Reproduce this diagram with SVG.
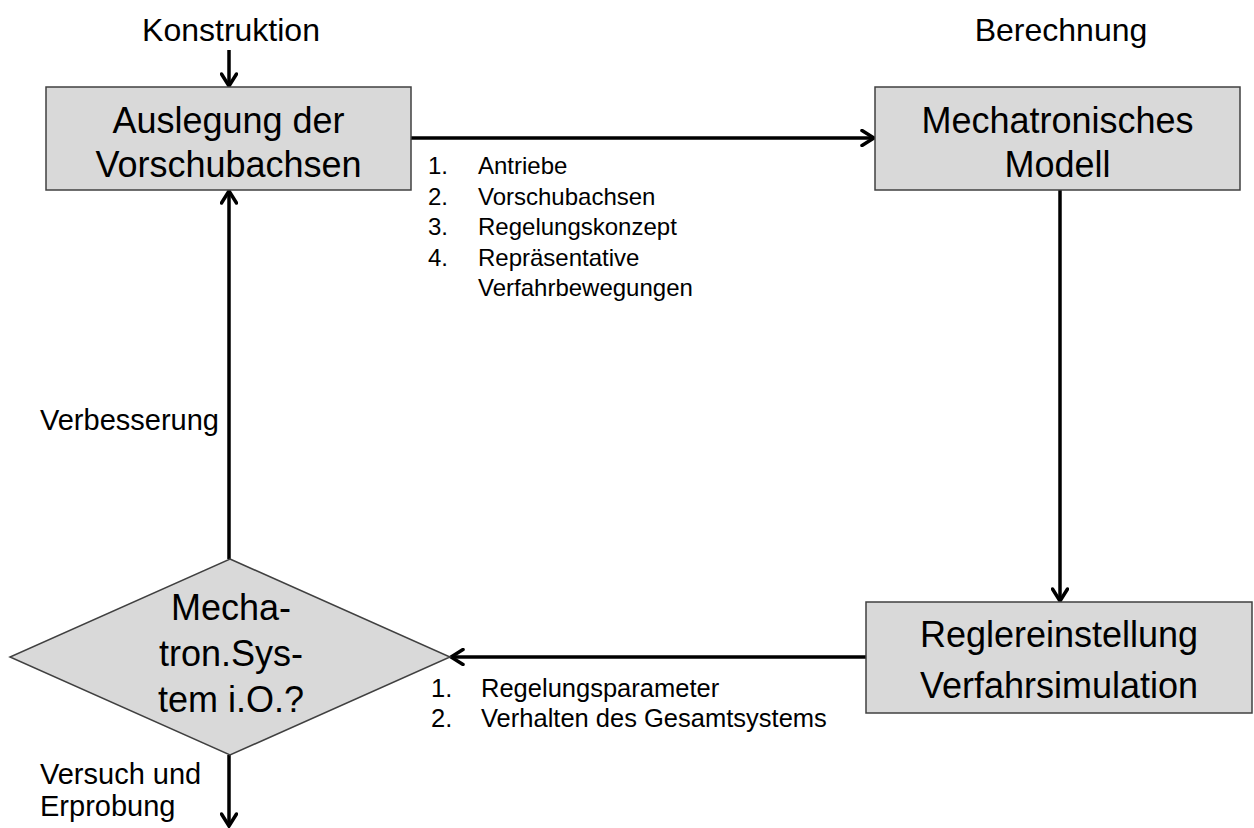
<svg xmlns="http://www.w3.org/2000/svg" width="1254" height="828" viewBox="0 0 1254 828">
  <style>
    .node { fill: #d9d9d9; stroke: #404040; stroke-width: 1.5; }
    .box-text { font-family: "Liberation Sans", Arial, sans-serif; font-size: 36px; fill: #000; text-anchor: middle; }
    .label { font-family: "Liberation Sans", Arial, sans-serif; font-size: 29px; fill: #000; }
    .label-top { font-family: "Liberation Sans", Arial, sans-serif; font-size: 32px; fill: #000; text-anchor: middle; }
    .list { font-family: "Liberation Sans", Arial, sans-serif; font-size: 24px; fill: #000; }
    .list-low { font-family: "Liberation Sans", Arial, sans-serif; font-size: 25.5px; fill: #000; }
    .edge { fill: none; stroke: #000; stroke-width: 3.5; }
  </style>
  <defs>
    <marker id="arrow" markerUnits="userSpaceOnUse" viewBox="0 0 16 18" refX="14" refY="9" markerWidth="16" markerHeight="18" orient="auto">
      <path d="M2,1.5 L14,9 L2,16.5" fill="none" stroke="#000" stroke-width="3.5" stroke-linecap="round" stroke-linejoin="miter"/>
    </marker>
  </defs>

  <rect width="1254" height="828" fill="#fff"/>

  <!-- Connectors -->
  <g id="connectors">
    <line class="edge" x1="229" y1="50" x2="229" y2="86" marker-end="url(#arrow)"/>
    <line class="edge" x1="411" y1="138" x2="874" y2="138" marker-end="url(#arrow)"/>
    <line class="edge" x1="1060" y1="190" x2="1060" y2="601" marker-end="url(#arrow)"/>
    <line class="edge" x1="866" y1="657" x2="451" y2="657" marker-end="url(#arrow)"/>
    <line class="edge" x1="229" y1="559" x2="229" y2="191" marker-end="url(#arrow)"/>
    <line class="edge" x1="229" y1="755" x2="229" y2="826" marker-end="url(#arrow)"/>
  </g>

  <!-- Side labels -->
  <g id="labels">
    <text class="label-top" x="231" y="41">Konstruktion</text>
    <text class="label-top" x="1061" y="41">Berechnung</text>
    <text class="label" x="40" y="430">Verbesserung</text>
    <text class="label" x="40" y="784">Versuch und</text>
    <text class="label" x="40" y="816">Erprobung</text>
  </g>

  <!-- Transferred data lists -->
  <g id="list-design">
    <text class="list" x="428" y="174">1.</text><text class="list" x="478" y="174">Antriebe</text>
    <text class="list" x="428" y="204.5">2.</text><text class="list" x="478" y="204.5">Vorschubachsen</text>
    <text class="list" x="428" y="235">3.</text><text class="list" x="478" y="235">Regelungskonzept</text>
    <text class="list" x="428" y="265.5">4.</text><text class="list" x="478" y="265.5">Repräsentative</text>
    <text class="list" x="478" y="296">Verfahrbewegungen</text>
  </g>
  <g id="list-control">
    <text class="list-low" x="431" y="697">1.</text><text class="list-low" x="481" y="697">Regelungsparameter</text>
    <text class="list-low" x="431" y="727">2.</text><text class="list-low" x="481" y="727">Verhalten des Gesamtsystems</text>
  </g>

  <!-- Nodes -->
  <g id="node-auslegung">
    <rect class="node" x="46" y="87" width="365" height="103"/>
    <text class="box-text" x="228.5" y="133">Auslegung der</text>
    <text class="box-text" x="228.5" y="177">Vorschubachsen</text>
  </g>
  <g id="node-modell">
    <rect class="node" x="875" y="87" width="365" height="103"/>
    <text class="box-text" x="1057.5" y="133">Mechatronisches</text>
    <text class="box-text" x="1057.5" y="177">Modell</text>
  </g>
  <g id="node-regler">
    <rect class="node" x="866" y="602" width="386" height="111"/>
    <text class="box-text" x="1059" y="647">Reglereinstellung</text>
    <text class="box-text" x="1059" y="698">Verfahrsimulation</text>
  </g>
  <g id="node-entscheidung">
    <polygon class="node" points="230,559 450,657 230,755 10,657"/>
    <text class="box-text" x="231" y="620">Mecha-</text>
    <text class="box-text" x="231" y="666">tron.Sys-</text>
    <text class="box-text" x="231" y="712">tem i.O.?</text>
  </g>
</svg>
